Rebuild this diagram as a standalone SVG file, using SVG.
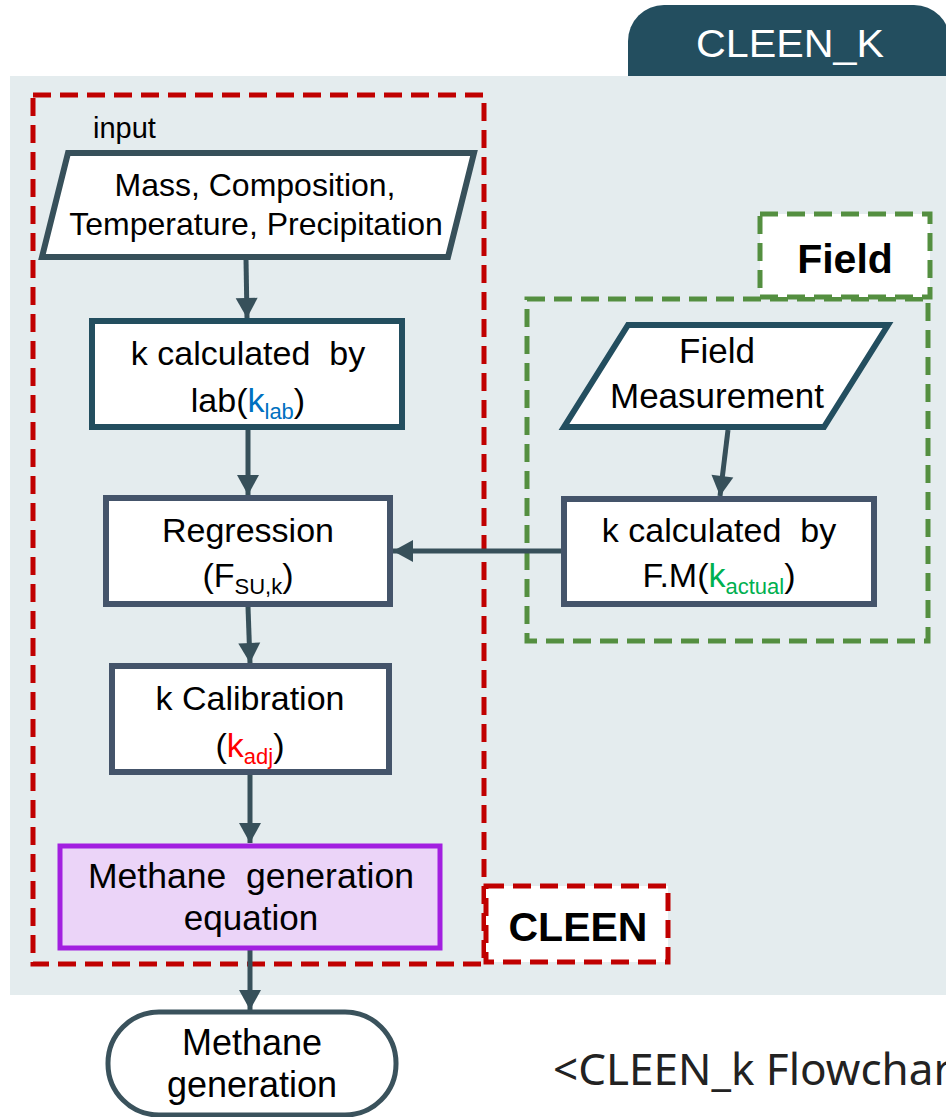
<svg xmlns="http://www.w3.org/2000/svg" width="946" height="1117" viewBox="0 0 946 1117">
  <style>
    .t { font-family: "Liberation Sans", Arial, sans-serif; fill: #000; text-anchor: middle; }
    .lbl { font-family: "Liberation Sans", Arial, sans-serif; font-weight: bold; fill: #000; text-anchor: middle; }
    .box { fill: #fff; stroke-width: 6; }
    .dark { stroke: #234e5f; }
    .slate { stroke: #44546a; }
    .steel { stroke: #37505a; }
    .red-dash { fill: none; stroke: #c00000; stroke-width: 5; stroke-dasharray: 18 9; }
    .green-dash { fill: none; stroke: #548f40; stroke-width: 5; stroke-dasharray: 18 9; }
    .conn { fill: none; stroke: #37505a; stroke-width: 5; }
    .sub { font-size: 22px; }
  </style>
  <defs>
    <marker id="arrow" markerUnits="userSpaceOnUse" markerWidth="24" markerHeight="24" viewBox="0 0 24 24" refX="22" refY="12" orient="auto">
      <path d="M2,1 L22,12 L2,23 Z" fill="#37505a"/>
    </marker>
  </defs>

  <!-- title tab and background panel -->
  <g id="panel">
    <rect x="628" y="5" width="322" height="110" rx="36" fill="#234e5f"/>
    <text x="790" y="57" font-family="'Liberation Sans', Arial, sans-serif" font-size="38" fill="#fff" text-anchor="middle" textLength="188" lengthAdjust="spacingAndGlyphs">CLEEN_K</text>
    <rect x="10" y="76" width="936" height="919" fill="#e4ecee"/>
  </g>

  <!-- group frames -->
  <g id="cleen-group">
    <rect class="red-dash" x="33" y="95" width="451" height="869"/>
    <text x="93" y="138" font-family="'Liberation Sans', Arial, sans-serif" font-size="29">input</text>
  </g>
  <g id="field-group">
    <rect class="green-dash" x="527" y="299" width="401" height="342"/>
  </g>

  <!-- connectors -->
  <g id="connectors">
    <line class="conn" x1="246" y1="259" x2="247" y2="318" marker-end="url(#arrow)"/>
    <line class="conn" x1="248" y1="430" x2="248" y2="495" marker-end="url(#arrow)"/>
    <line class="conn" x1="562" y1="551" x2="393" y2="551" marker-end="url(#arrow)"/>
    <line class="conn" x1="728" y1="430" x2="720" y2="496" marker-end="url(#arrow)"/>
    <line class="conn" x1="248" y1="607" x2="250" y2="663" marker-end="url(#arrow)"/>
    <line class="conn" x1="250" y1="775" x2="250" y2="843" marker-end="url(#arrow)"/>
    <line class="conn" x1="250" y1="950" x2="250" y2="1010" marker-end="url(#arrow)"/>
  </g>

  <!-- input data -->
  <g id="input-data">
    <polygon class="box steel" points="68,153 474,153 448,257 42,257"/>
    <text class="t" x="255" y="196" font-size="32">Mass, Composition,</text>
    <text class="t" x="256" y="235" font-size="32">Temperature, Precipitation</text>
  </g>

  <!-- lab k -->
  <g id="k-lab">
    <rect class="box dark" x="92" y="321" width="310" height="106"/>
    <text class="t" x="248" y="365" font-size="34" xml:space="preserve">k calculated  by</text>
    <text class="t" x="248" y="412" font-size="34">lab(<tspan fill="#0070c0">k<tspan class="sub" dy="7">lab</tspan></tspan><tspan dy="-7">)</tspan></text>
  </g>

  <!-- regression -->
  <g id="regression">
    <rect class="box slate" x="106" y="498" width="284" height="106"/>
    <text class="t" x="248" y="542" font-size="34">Regression</text>
    <text class="t" x="248" y="587" font-size="34">(F<tspan class="sub" dy="7">SU,k</tspan><tspan dy="-7">)</tspan></text>
  </g>

  <!-- calibration -->
  <g id="k-calibration">
    <rect class="box slate" x="112" y="666" width="277" height="106"/>
    <text class="t" x="250" y="710" font-size="34">k Calibration</text>
    <text class="t" x="250" y="757" font-size="34">(<tspan fill="#ff0000">k<tspan class="sub" dy="7">adj</tspan></tspan><tspan dy="-7">)</tspan></text>
  </g>

  <!-- methane equation -->
  <g id="methane-equation">
    <rect x="60" y="846" width="380" height="102" fill="#ebd4f8" stroke="#a21fe0" stroke-width="5"/>
    <text class="t" x="251" y="888" font-size="35" xml:space="preserve" textLength="326" lengthAdjust="spacingAndGlyphs">Methane  generation</text>
    <text class="t" x="251" y="930" font-size="35">equation</text>
  </g>

  <!-- CLEEN label -->
  <g id="cleen-label">
    <rect x="486" y="886" width="182" height="76" fill="#fff" stroke="#c00000" stroke-width="5" stroke-dasharray="18 9"/>
    <text class="lbl" x="578" y="941" font-size="41">CLEEN</text>
  </g>

  <!-- Field label -->
  <g id="field-label">
    <rect x="760" y="214" width="170" height="83" fill="#fff" stroke="#548f40" stroke-width="5" stroke-dasharray="18 9"/>
    <text class="lbl" x="845" y="273" font-size="41">Field</text>
  </g>

  <!-- field measurement -->
  <g id="field-measurement">
    <polygon class="box dark" points="628,325 888,325 824,427 564,427"/>
    <text class="t" x="717" y="363" font-size="35">Field</text>
    <text class="t" x="717" y="408" font-size="35">Measurement</text>
  </g>

  <!-- field k -->
  <g id="k-actual">
    <rect class="box slate" x="564" y="499" width="310" height="105"/>
    <text class="t" x="719" y="542" font-size="34" xml:space="preserve">k calculated  by</text>
    <text class="t" x="719" y="587" font-size="34">F.M(<tspan fill="#00b050">k<tspan class="sub" dy="7">actual</tspan></tspan><tspan dy="-7">)</tspan></text>
  </g>

  <!-- result -->
  <g id="methane-generation">
    <rect x="108" y="1012" width="288" height="103" rx="51" fill="#fff" stroke="#3a525c" stroke-width="5"/>
    <text class="t" x="252" y="1055" font-size="36">Methane</text>
    <text class="t" x="252" y="1097" font-size="36">generation</text>
  </g>

  <!-- caption -->
  <g id="caption">
    <text x="553" y="1085" font-family="'Noto Sans', sans-serif" font-size="44" fill="#222">&lt;CLEEN_k Flowchart&gt;</text>
  </g>
</svg>
